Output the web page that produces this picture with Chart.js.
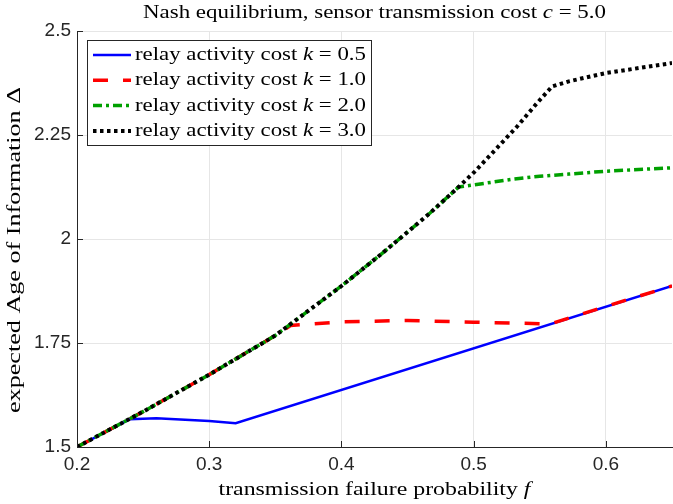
<!DOCTYPE html>
<html>
<head>
<meta charset="utf-8">
<script src="https://cdn.jsdelivr.net/npm/chart.js@4/dist/chart.umd.min.js"></script>
<style>
  html, body { margin: 0; padding: 0; background: #fff; }
  #wrap { width: 673px; height: 504px; }
</style>
</head>
<body>
<div id="wrap"><canvas id="aoiChart"></canvas></div>
<script>
// values
const xTicks = [0.2, 0.3, 0.4, 0.5, 0.6];
const yTicks = [1.5, 1.75, 2, 2.25, 2.5];
const yTickLabels = ['1.5', '1.75', '2', '2.25', '2.5'];

const fK05 = [0.2, 0.24, 0.26, 0.3, 0.32, 0.65];
const aoiK05 = [1.5, 1.567, 1.569, 1.5625, 1.557, 1.887];

const fK10 = [0.2, 0.25, 0.3, 0.35, 0.3615, 0.4, 0.45, 0.5, 0.558, 0.6, 0.65];
const aoiK10 = [1.5, 1.585, 1.674, 1.768, 1.792, 1.801, 1.804, 1.80, 1.796, 1.838, 1.887];

const fK20 = [0.2, 0.25, 0.3, 0.35, 0.4, 0.431, 0.4445, 0.467, 0.4886, 0.5, 0.53, 0.55, 0.572, 0.6, 0.65];
const aoiK20 = [1.5, 1.585, 1.674, 1.768, 1.887, 1.966, 2.002, 2.0625, 2.125, 2.13, 2.144, 2.151, 2.156, 2.163, 2.171];

const fK30 = [0.2, 0.25, 0.3, 0.35, 0.4, 0.431, 0.4445, 0.467, 0.4886, 0.5008, 0.5177, 0.533, 0.548, 0.5594, 0.572, 0.6, 0.65];
const aoiK30 = [1.5, 1.585, 1.674, 1.768, 1.887, 1.966, 2.002, 2.0625, 2.125, 2.162, 2.219, 2.271, 2.327, 2.367, 2.379, 2.399, 2.423];

const kLabels = ['0.5', '1.0', '2.0', '3.0'];

const SERIF = '"Liberation Serif", "DejaVu Serif", serif';
const SANS = '"Liberation Sans", Arial, sans-serif';

function toPoints(xs, ys) {
    return xs.map((x, i) => ({ x: x, y: ys[i] }));
}

// draws a run of text pieces, some italic (math variables); the run is
// stretched sideways to the given width because Times is narrower than CM
function drawRich(ctx, parts, x, y, size, align, width) {
    let total = 0;
    parts.forEach(p => {
        ctx.font = (p.it ? 'italic ' : '') + size + 'px ' + SERIF;
        p.w = ctx.measureText(p.t).width;
        total += p.w;
    });
    const sx = width ? width / total : 1;
    ctx.save();
    ctx.translate(x, y);
    ctx.scale(sx, 1);
    let cx = align === 'center' ? -total / 2 : 0;
    ctx.textAlign = 'left';
    ctx.textBaseline = 'middle';
    parts.forEach(p => {
        ctx.font = (p.it ? 'italic ' : '') + size + 'px ' + SERIF;
        ctx.fillText(p.t, cx, 0);
        cx += p.w;
    });
    ctx.restore();
}

const texPlugin = {
    id: 'texPlugin',
    afterDraw(chart) {
        const ctx = chart.ctx;
        const area = chart.chartArea;
        const xs = chart.scales.x;
        const ys = chart.scales.y;
        const midX = (area.left + area.right) / 2;

        ctx.save();
        // inward tick marks, like the original
        ctx.strokeStyle = '#262626';
        ctx.lineWidth = 1;
        ctx.beginPath();
        xTicks.forEach(v => {
            const px = Math.round(xs.getPixelForValue(v)) + 0.5;
            ctx.moveTo(px, area.bottom);
            ctx.lineTo(px, area.bottom - 6);
        });
        yTicks.forEach(v => {
            const py = Math.round(ys.getPixelForValue(v)) + 0.5;
            ctx.moveTo(area.left, py);
            ctx.lineTo(area.left + 6, py);
        });
        ctx.stroke();

        ctx.fillStyle = '#000';
        drawRich(ctx, [
            { t: 'Nash equilibrium, sensor transmission cost ' },
            { t: 'c', it: true },
            { t: ' = 5.0' }
        ], midX, 13, 19, 'center', 463);

        drawRich(ctx, [
            { t: 'transmission failure probability ' },
            { t: 'f', it: true }
        ], midX, 490, 19, 'center', 312);

        ctx.save();
        ctx.translate(15, 250);
        ctx.rotate(-Math.PI / 2);
        drawRich(ctx, [{ t: 'expected Age of Information \u0394' }], 0, 0, 19, 'center', 326);
        ctx.restore();

        // legend box in the top-left of the plot
        const bx = 87.5, by = 40.5, bw = 284, bh = 105;
        ctx.fillStyle = '#fff';
        ctx.fillRect(bx, by, bw, bh);
        ctx.strokeStyle = '#262626';
        ctx.lineWidth = 1;
        ctx.strokeRect(bx, by, bw, bh);

        chart.data.datasets.forEach((ds, i) => {
            const rowY = 55 + i * 25.3;
            ctx.save();
            ctx.strokeStyle = ds.borderColor;
            ctx.lineWidth = ds.borderWidth;
            ctx.setLineDash(ds.borderDash || []);
            ctx.lineCap = 'butt';
            ctx.beginPath();
            ctx.moveTo(93, rowY);
            ctx.lineTo(131, rowY);
            ctx.stroke();
            ctx.restore();
            ctx.fillStyle = '#000';
            drawRich(ctx, [
                { t: 'relay activity cost ' },
                { t: 'k', it: true },
                { t: ' = ' + kLabels[i] }
            ], 135, rowY, 19, 'left', 231);
        });
        ctx.restore();
    }
};

function makeSet(xs, ys, color, width, dash, order) {
    return {
        data: toPoints(xs, ys),
        borderColor: color,
        backgroundColor: color,
        borderWidth: width,
        borderDash: dash,
        pointRadius: 0,
        fill: false,
        tension: 0,
        order: order
    };
}

new Chart(document.getElementById('aoiChart'), {
    type: 'line',
    data: {
        datasets: [
            makeSet(fK05, aoiK05, '#0000ff', 2.5, [], 3),
            makeSet(fK10, aoiK10, '#ff0000', 3.5, [15, 15], 2),
            makeSet(fK20, aoiK20, '#00a000', 3.5, [9, 4, 3, 4], 1),
            makeSet(fK30, aoiK30, '#000000', 4, [3.5, 3.5], 0)
        ]
    },
    options: {
        responsive: true,
        maintainAspectRatio: false,
        animation: false,
        layout: { padding: { top: 31, right: 1, left: 0, bottom: 0 } },
        plugins: {
            legend: { display: false },
            title: { display: false },
            tooltip: { enabled: false }
        },
        scales: {
            x: {
                type: 'linear',
                min: 0.2,
                max: 0.65,
                afterBuildTicks: s => { s.ticks = xTicks.map(v => ({ value: v })); },
                afterFit: s => { s.height = 57; },
                ticks: {
                    font: { family: SANS, size: 19 },
                    color: '#262626',
                    padding: 6,
                    maxRotation: 0,
                    autoSkip: false,
                    callback: v => String(v)
                },
                grid: { color: '#e6e6e6', lineWidth: 1, drawTicks: false },
                border: { color: '#262626', width: 1 }
            },
            y: {
                type: 'linear',
                min: 1.5,
                max: 2.5,
                afterBuildTicks: s => { s.ticks = yTicks.map(v => ({ value: v })); },
                afterFit: s => { s.width = 77; },
                ticks: {
                    font: { family: SANS, size: 19 },
                    color: '#262626',
                    padding: 6,
                    autoSkip: false,
                    callback: (v) => yTickLabels[yTicks.indexOf(v)]
                },
                grid: { color: '#e6e6e6', lineWidth: 1, drawTicks: false },
                border: { color: '#262626', width: 1 }
            }
        }
    },
    plugins: [texPlugin]
});
</script>
</body>
</html>
